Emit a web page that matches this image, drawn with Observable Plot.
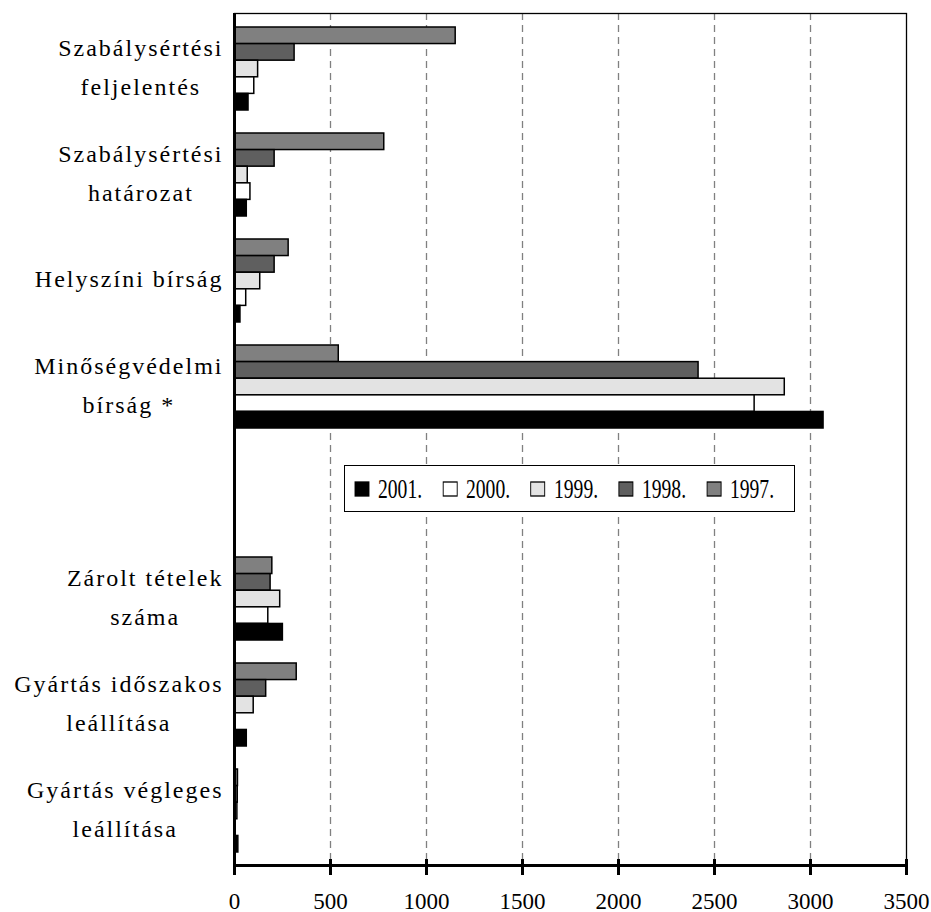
<!DOCTYPE html>
<html>
<head>
<meta charset="utf-8">
<script src="https://cdn.jsdelivr.net/npm/d3@7"></script>
<script src="https://cdn.jsdelivr.net/npm/@observablehq/plot@0.6"></script>
<style>
  body { margin: 0; background: #fff; }
  #wrap { position: relative; width: 931px; height: 912px; background: #fff; }
  #legend { position: absolute; left: 344px; top: 465px; width: 451px; height: 47px; box-sizing: border-box;
            border: 1.3px solid #000; background: #fff; display: flex; align-items: center; padding-left: 10px; overflow: visible; }
  #legend .lg-swatches, #legend .lg-swatches-wrap { min-height: 0 !important; margin: 0 !important; flex-wrap: nowrap !important; white-space: nowrap;
            transform: scaleX(0.7); transform-origin: left center; }
  #legend, #legend div, #legend span { font-family: "Liberation Serif", "Times New Roman", serif !important; font-size: 28px !important; color: #000; }
  #legend .lg-swatch { width: 125.7px; flex: none; margin: 0 !important; }
  #legend .lg-swatch svg { margin-right: 12.9px !important; overflow: visible; }
  #legend .lg-swatch rect { stroke: #000; stroke-width: 1.3px; }
</style>
</head>
<body>
<div id="wrap"><div id="chart"></div><div id="legend"></div></div>
<script>
const categories = [
  "Szabálysértési\nfeljelentés",
  "Szabálysértési\nhatározat",
  "Helyszíni bírság",
  "Minőségvédelmi\nbírság *",
  "Zárolt tételek\nszáma",
  "Gyártás időszakos\nleállítása",
  "Gyártás végleges\nleállítása"
];
const spacer = " ";
const years = ["1997", "1998", "1999", "2000", "2001"];
const yearColors = ["#808080", "#5f5f5f", "#e3e3e3", "#ffffff", "#000000"];

const v1997 = [1152, 780, 282, 543, 197, 324, 18];
const v1998 = [313, 209, 209, 2417, 188, 165, 17];
const v1999 = [123, 69, 134, 2866, 238, 100, 15];
const v2000 = [103, 83, 61, 2709, 176, 0, 0];
const v2001 = [73, 64, 31, 3068, 252, 64, 20];
const series = [v1997, v1998, v1999, v2000, v2001];

const xTicks = [0, 500, 1000, 1500, 2000, 2500, 3000, 3500];
const gridTicks = [500, 1000, 1500, 2000, 2500, 3000];
const legendLabels = ["2001.", "2000.", "1999.", "1998.", "1997."];
const legendColors = ["#000000", "#ffffff", "#e3e3e3", "#5f5f5f", "#808080"];

const slots = [categories[0], categories[1], categories[2], categories[3], spacer, categories[4], categories[5], categories[6]];

// layout
const W = 931, H = 912, mT = 13, mB = 47, mL = 234, mR = 25;
const padInner = 0.22, padOuter = 0.11;
const step = (H - mT - mB) / (slots.length - padInner + 2 * padOuter);
const bandW = step * (1 - padInner);
const barH = bandW / years.length;

const barMarks = years.map((yr, i) => Plot.barX(
  categories.map((c, j) => ({cat: c, year: yr, value: series[i][j]})),
  {x: "value", y: "cat", fill: "year", stroke: "#000", strokeWidth: 1.5,
   insetTop: i * barH, insetBottom: (years.length - 1 - i) * barH}
));

const chart = Plot.plot({
  width: W,
  height: H,
  marginTop: mT,
  marginBottom: mB,
  marginLeft: mL,
  marginRight: mR,
  style: {fontFamily: "'Liberation Serif', 'Times New Roman', serif", fontSize: "23px", color: "#000", background: "#fff", overflow: "visible"},
  x: {domain: [0, 3500], axis: null},
  y: {domain: slots, paddingInner: padInner, paddingOuter: padOuter, axis: null},
  color: {domain: years, range: yearColors},
  marks: [
    Plot.ruleX(gridTicks, {stroke: "#808080", strokeWidth: 1.3, strokeDasharray: "7,5"}),
    ...barMarks,
    Plot.text(categories, {y: d => d, text: d => d, frameAnchor: "left", textAnchor: "middle", lineAnchor: "middle",
      lineHeight: 1.62, fontSize: 24, fill: "#000", dy: -6}),
    Plot.frame({stroke: "#000", strokeWidth: 1.3}),
    Plot.ruleX([0], {stroke: "#000", strokeWidth: 3}),
    Plot.frame({anchor: "bottom", stroke: "#000", strokeWidth: 3}),
    Plot.axisX(xTicks, {anchor: "bottom", label: null, tickFormat: () => "", tickSize: -6, strokeWidth: 3, stroke: "#000"}),
    Plot.axisX(xTicks, {anchor: "bottom", label: null, tickFormat: d => String(d), tickSize: 10, tickPadding: 17,
      strokeWidth: 3, fontSize: 23, fill: "#000", stroke: "#000"})
  ]
});
document.getElementById("chart").appendChild(chart);

// letter spacing and right-aligned label blocks (lines centered within each block)
chart.querySelectorAll('g[aria-label="text"] text').forEach(t => {
  t.style.letterSpacing = "2px";
  const w = t.getBBox().width;
  const tr = t.getAttribute("transform") || "";
  t.setAttribute("transform", tr + ` translate(${-(11 + w / 2)},0)`);
});

const legend = Plot.legend({
  color: {type: "ordinal", domain: legendLabels, range: legendColors},
  legend: "swatches",
  swatchWidth: 20,
  swatchHeight: 14,
  className: "lg"
});
document.getElementById("legend").appendChild(legend);
</script>
</body>
</html>
